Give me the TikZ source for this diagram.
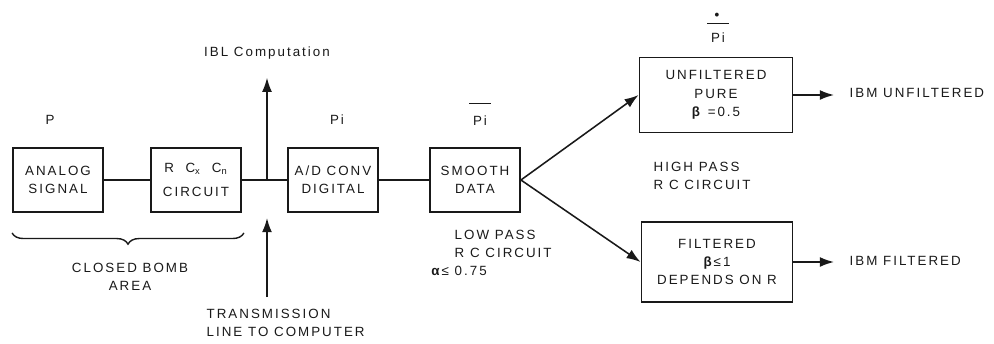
\documentclass[tikz,border=0pt]{standalone}
\usepackage{fontspec}
\setmainfont{Liberation Sans}[LetterSpace=15]
\usetikzlibrary{positioning,arrows.meta,decorations.pathreplacing}
\definecolor{inkcolor}{RGB}{25,25,25}

\begin{document}
\begin{tikzpicture}[x=0.025cm,y=-0.025cm,font=\fontsize{9.5}{13}\selectfont,
    blockbox/.style={draw=inkcolor,line width=1.3pt,align=center,inner sep=2pt,
      text=inkcolor,minimum width=2.25cm,minimum height=1.6cm},
    flowline/.style={draw=inkcolor,line width=1.1pt},
    flowarrow/.style={flowline,-{Latex[length=10pt,width=7pt]}},
    plain/.style={text=inkcolor,align=center,inner sep=1pt}]
  \useasboundingbox (0,0) rectangle (994,343);
  % Signal chain
  \node[blockbox] (analog) at (58,180) {ANALOG\\SIGNAL};
  \node[blockbox] (rccirc) at (196,180) {R\ \ C\textsubscript{x}\ \ C\textsubscript{n}\\[4pt]CIRCUIT};
  \node[blockbox] (adconv) at (333,180) {A/D CONV\\DIGITAL};
  \node[blockbox] (smooth) at (475,180) {SMOOTH\\DATA};
  \node[blockbox,minimum width=3.825cm,minimum height=1.875cm] (unfilt) at (716,95)
    {UNFILTERED\\PURE\\\textbf{β} =0.5};
  \node[blockbox,minimum width=3.775cm,minimum height=2cm] (filt) at (717,262)
    {FILTERED\\\textbf{β}≤1\\DEPENDS ON R};
  % Signal names over the blocks
  \node[plain] (plabel) at (50,120) {P};
  \node[plain] (pilabel) at (337,120) {Pi};
  \node[plain] (pibar) at (480,114) {\rule{15pt}{0.8pt}\\[2pt]Pi};
  \node[plain] (pidot) at (718,28) {\textbf{•}\\[-9.5pt]\rule{15pt}{0.8pt}\\[0pt]Pi};
  % Connections
  \coordinate (tap) at (267,180);
  \coordinate (txfoot) at (267,297);
  \draw[flowline] (analog) -- (rccirc);
  \draw[flowline] (rccirc) -- (adconv);
  \draw[flowline] (adconv) -- (smooth);
  \draw[flowarrow] (smooth.east) -- (unfilt.west);
  \draw[flowarrow] (smooth.east) -- (filt.west);
  % Computer side
  \node[plain] (ibl) at (267,53) {IBL Computation};
  \draw[flowarrow] (tap) -- ([yshift=-0.42cm]ibl.south);
  \draw[flowarrow] (txfoot) -- ([yshift=-0.95cm]tap);
  \node[plain,align=left,anchor=north west] (txline) at (205,307)
    {TRANSMISSION\\LINE TO COMPUTER};
  % Outputs
  \node[plain,anchor=west] (ibmunf) at (848,93) {IBM UNFILTERED};
  \node[plain,anchor=west] (ibmfilt) at (848,261) {IBM FILTERED};
  \draw[flowarrow,shorten >=0.35cm] (unfilt.east) -- (unfilt.east -| ibmunf.west);
  \draw[flowarrow,shorten >=0.35cm] (filt.east) -- (filt.east -| ibmfilt.west);
  % Filter notes
  \node[plain,align=left,anchor=west] (highpass) at (652,176) {HIGH PASS\\R C CIRCUIT};
  \node[plain,align=left,anchor=north west] (lowpass) at (453,228)
    {LOW PASS\\R C CIRCUIT\\\llap{\textbf{α}≤ }0.75};
  % Closed bomb area
  \draw[inkcolor,line width=1pt,decorate,decoration={brace,mirror,amplitude=0.28cm}]
    ([yshift=-0.5cm]analog.south west) -- ([yshift=-0.5cm,xshift=0.05cm]rccirc.south east);
  \node[plain] (bomb) at (130,277) {CLOSED BOMB\\AREA};
\end{tikzpicture}
\end{document}
